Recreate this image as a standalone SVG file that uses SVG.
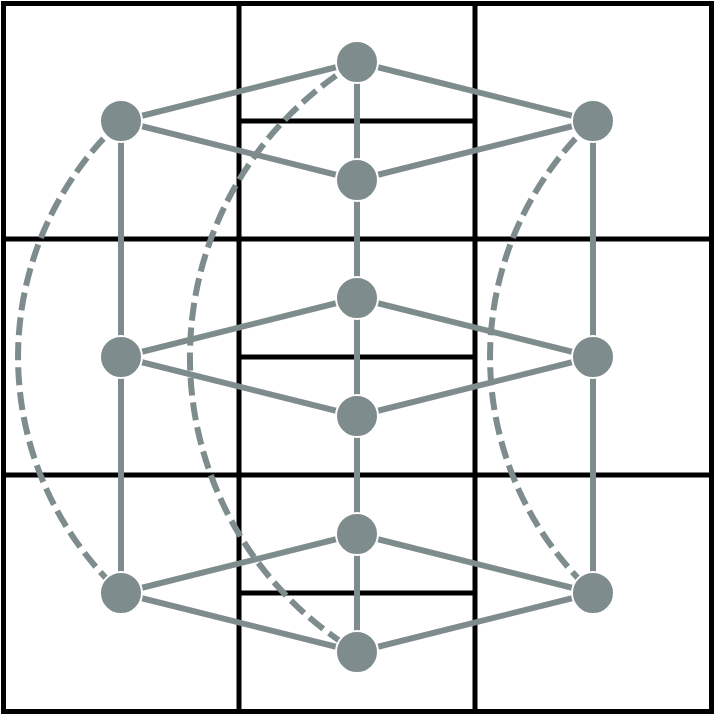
<svg xmlns="http://www.w3.org/2000/svg" width="715" height="715" viewBox="0 0 715 715">
<style>
.grid{stroke:#000;stroke-width:5;fill:none}
.edge{stroke:#7f8c8d;stroke-width:6;fill:none}
.dash{stroke:#7f8c8d;stroke-width:6;fill:none;stroke-dasharray:18,7}
.node{fill:#7f8c8d;stroke:#fff;stroke-width:2}
</style>
<rect width="715" height="715" fill="#fff"/>
<g id="grid" class="grid">
<rect x="3.5" y="3.5" width="708" height="708"/>
<line x1="239" y1="3" x2="239" y2="712"/>
<line x1="475" y1="3" x2="475" y2="712"/>
<line x1="3" y1="239" x2="712" y2="239"/>
<line x1="3" y1="475" x2="712" y2="475"/>
<line x1="239" y1="121" x2="475" y2="121"/>
<line x1="239" y1="357" x2="475" y2="357"/>
<line x1="239" y1="593" x2="475" y2="593"/>
</g>
<g id="connectors">
<line class="edge" x1="121" y1="121" x2="357" y2="62"/>
<line class="edge" x1="121" y1="121" x2="357" y2="180"/>
<line class="edge" x1="593" y1="121" x2="357" y2="62"/>
<line class="edge" x1="593" y1="121" x2="357" y2="180"/>
<line class="edge" x1="121" y1="357" x2="357" y2="298"/>
<line class="edge" x1="121" y1="357" x2="357" y2="416"/>
<line class="edge" x1="593" y1="357" x2="357" y2="298"/>
<line class="edge" x1="593" y1="357" x2="357" y2="416"/>
<line class="edge" x1="121" y1="593" x2="357" y2="534"/>
<line class="edge" x1="121" y1="593" x2="357" y2="652"/>
<line class="edge" x1="593" y1="593" x2="357" y2="534"/>
<line class="edge" x1="593" y1="593" x2="357" y2="652"/>
<line class="edge" x1="357" y1="62" x2="357" y2="652"/>
<line class="edge" x1="121" y1="121" x2="121" y2="593"/>
<line class="edge" x1="593" y1="121" x2="593" y2="593"/>
<path class="dash" d="M121,121 A322,322 0 0 0 121,593"/>
<path class="dash" d="M357,62 A344,344 0 0 0 357,652"/>
<path class="dash" d="M593,121 A322,322 0 0 0 593,593"/>
</g>
<g id="n1"><circle class="node" cx="121" cy="121" r="21"/></g>
<g id="n2"><circle class="node" cx="121" cy="357" r="21"/></g>
<g id="n3"><circle class="node" cx="121" cy="593" r="21"/></g>
<g id="n4"><circle class="node" cx="593" cy="121" r="21"/></g>
<g id="n5"><circle class="node" cx="593" cy="357" r="21"/></g>
<g id="n6"><circle class="node" cx="593" cy="593" r="21"/></g>
<g id="n7"><circle class="node" cx="357" cy="62" r="21"/></g>
<g id="n8"><circle class="node" cx="357" cy="180" r="21"/></g>
<g id="n9"><circle class="node" cx="357" cy="298" r="21"/></g>
<g id="n10"><circle class="node" cx="357" cy="416" r="21"/></g>
<g id="n11"><circle class="node" cx="357" cy="534" r="21"/></g>
<g id="n12"><circle class="node" cx="357" cy="652" r="21"/></g>
</svg>
